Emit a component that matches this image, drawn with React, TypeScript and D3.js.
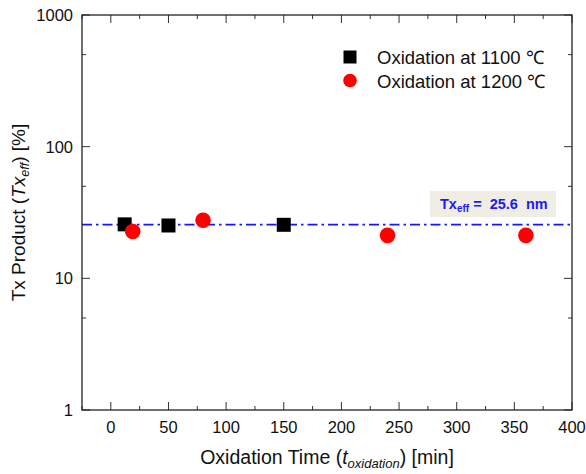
import React from "react";
import * as d3 from "d3";

const series1100_t = [12, 50, 150];
const series1100_v = [25.7, 25.2, 25.5];
const series1200_t = [19, 80, 240, 360];
const series1200_v = [22.7, 27.6, 21.2, 21.2];
const refValue = 25.6;
const xMajorTicks = [0, 50, 100, 150, 200, 250, 300, 350, 400];
const xMinorTicks = [-25, 25, 75, 125, 175, 225, 275, 325, 375];
const yMajorTicks = [1, 10, 100, 1000];
const yMinorTicks = [5, 50, 500];
const legendLabels = ["Oxidation at 1100 \u2103", "Oxidation at 1200 \u2103"];

const W = 586;
const H = 474;
const L = 82, R = 572, T = 15, B = 410;
const FONT = "Arial, 'Liberation Sans', sans-serif";

export default function App() {
  const x = d3.scaleLinear().domain([-25, 400]).range([L, R]);
  const y = d3.scaleLog().domain([1, 1000]).range([B, T]);
  const maj = 8, min = 4;
  const tickStroke = "#333";
  const sq = 14;
  const r = 7.8;

  return (
    <svg width={W} height={H} style={{ position: "absolute", left: 0, top: 0, background: "#fff" }}>
      <line x1={L} x2={R} y1={y(refValue)} y2={y(refValue)} stroke="#1515ff" strokeWidth={1.8} strokeDasharray="10,4,2.5,4" />
      {xMajorTicks.map((t) => (
        <g key={"xm" + t}>
          <line x1={x(t)} x2={x(t)} y1={B} y2={B - maj} stroke={tickStroke} />
          <line x1={x(t)} x2={x(t)} y1={T} y2={T + maj} stroke={tickStroke} />
          <text x={x(t)} y={433} textAnchor="middle" fontFamily={FONT} fontSize={16.5} fill="#111">{t}</text>
        </g>
      ))}
      {xMinorTicks.map((t) => (
        <g key={"xn" + t}>
          <line x1={x(t)} x2={x(t)} y1={B} y2={B - min} stroke={tickStroke} />
          <line x1={x(t)} x2={x(t)} y1={T} y2={T + min} stroke={tickStroke} />
        </g>
      ))}
      {yMajorTicks.map((t) => (
        <g key={"ym" + t}>
          <line x1={L} x2={L + maj} y1={y(t)} y2={y(t)} stroke={tickStroke} />
          <line x1={R} x2={R - maj} y1={y(t)} y2={y(t)} stroke={tickStroke} />
          <text x={73} y={y(t) + 6} textAnchor="end" fontFamily={FONT} fontSize={16.5} fill="#111">{t}</text>
        </g>
      ))}
      {yMinorTicks.map((t) => (
        <g key={"yn" + t}>
          <line x1={L} x2={L + min} y1={y(t)} y2={y(t)} stroke={tickStroke} />
          <line x1={R} x2={R - min} y1={y(t)} y2={y(t)} stroke={tickStroke} />
        </g>
      ))}
      <rect x={L} y={T} width={R - L} height={B - T} fill="none" stroke="#222" strokeWidth={1.3} />
      {series1100_t.map((t, i) => (
        <rect key={"s" + i} x={x(t) - sq / 2} y={y(series1100_v[i]) - sq / 2} width={sq} height={sq} fill="#000" />
      ))}
      {series1200_t.map((t, i) => (
        <circle key={"c" + i} cx={x(t)} cy={y(series1200_v[i])} r={r} fill="#ff0000" />
      ))}
      <rect x={430} y={191} width={126} height={26} fill="#efede4" />
      <text x={440} y={209} fontFamily={FONT} fontWeight="bold" fontSize={14.5} fill="#1a1aff">
        Tx<tspan fontSize={10} dy={3}>eff</tspan><tspan dy={-3}>{"\u00a0= \u00a025.6 \u00a0nm"}</tspan>
      </text>
      <rect x={350 - 6.5} y={57 - 6.5} width={13} height={13} fill="#000" />
      <circle cx={350} cy={80.5} r={6.8} fill="#ff0000" />
      <text x={377} y={64} fontFamily={FONT} fontSize={18.5} fill="#111">{legendLabels[0]}</text>
      <text x={377} y={87.5} fontFamily={FONT} fontSize={18.5} fill="#111">{legendLabels[1]}</text>
      <text x={(L + R) / 2} y={464} textAnchor="middle" fontFamily={FONT} fontSize={19.5} fill="#111">
        Oxidation Time (<tspan fontStyle="italic">t</tspan><tspan fontStyle="italic" fontSize={13} dy={4}>oxidation</tspan><tspan dy={-4}>) [min]</tspan>
      </text>
      <text transform={`translate(25, ${(T + B) / 2}) rotate(-90)`} textAnchor="middle" fontFamily={FONT} fontSize={19} fill="#111">
        Tx Product (<tspan fontStyle="italic">Tx</tspan><tspan fontStyle="italic" fontSize={12.5} dy={4}>eff</tspan><tspan dy={-4}>) [%]</tspan>
      </text>
    </svg>
  );
}
